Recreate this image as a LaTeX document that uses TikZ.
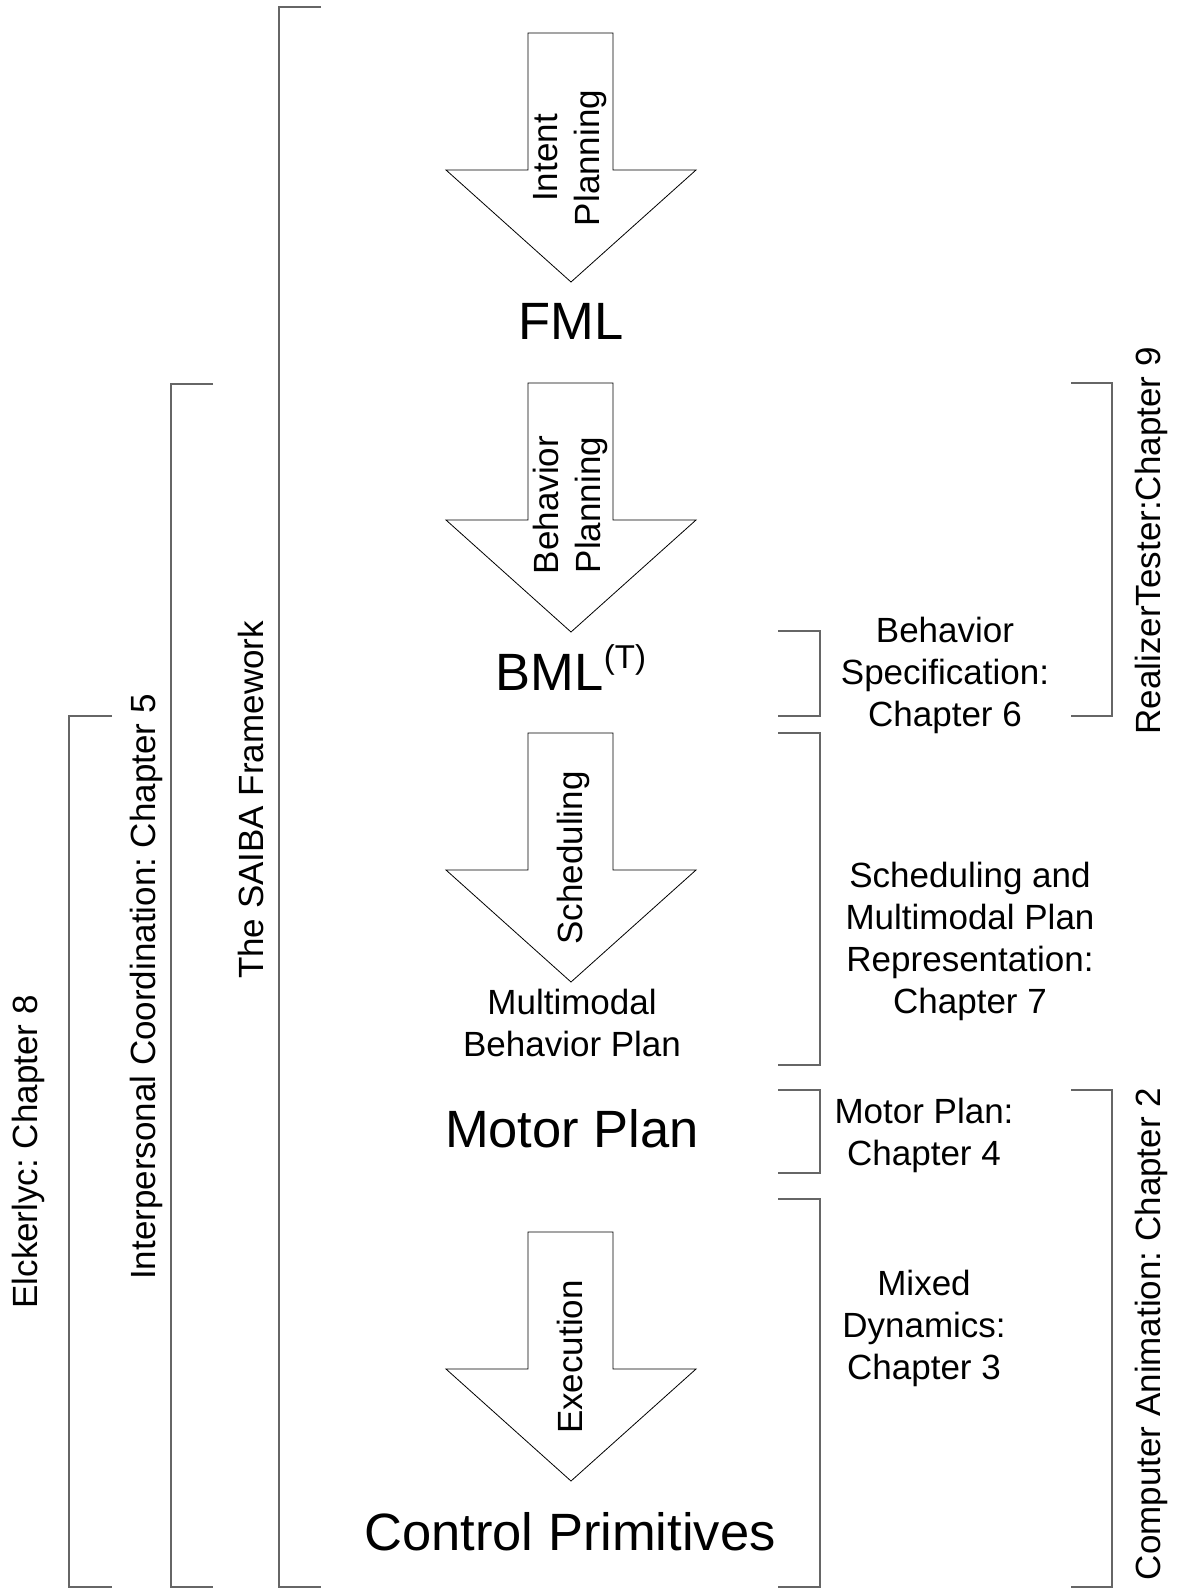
\documentclass[tikz,border=0pt]{standalone}
\usepackage{fontspec}
\setmainfont{Liberation Sans}
\newcommand\lblfont{\fontsize{35}{42}\selectfont}
\newcommand\bigfnt{\fontsize{52.5}{60}\selectfont}
\newcommand\supfnt{\fontsize{33}{40}\selectfont}
% block arrow pointing down: #1 = top of the shaft (y grows downwards)
\newcommand\stagearrow[1]{%
  \draw[stage] (528,#1) -- (613,#1) -- (613,#1+137) -- (696,#1+137)
    -- (571,#1+249) -- (446,#1+137) -- (528,#1+137) -- cycle;}

\begin{document}
\frenchspacing
\begin{tikzpicture}[x=1pt,y=-1pt,
  bracket/.style={draw=black!60, line width=1.3pt},
  stage/.style={draw=black, line width=0.8pt, fill=white, line join=miter},
  txt/.style={inner sep=0pt, font=\lblfont, align=center},
  big/.style={inner sep=0pt, font=\bigfnt},
  vert/.style={txt, rotate=90},
]
\useasboundingbox (0,0) rectangle (1176,1592);

% stages of the pipeline
\stagearrow{33}
\stagearrow{383}
\stagearrow{733}
\stagearrow{1232}

\node[vert] (intent) at (570.5,158) {Intent\\Planning};
\node[vert] (behplan) at (570.5,505) {Behavior\\Planning};
\node[vert, anchor=base] (sched) at (582,858) {Scheduling};
\node[vert, anchor=base] (exec) at (582,1357) {Execution};

% representations
\node[big, anchor=base] (fml) at (571,339) {FML};
\node[big, anchor=base] (bml) at (571,690) {BML\raisebox{22pt}{\supfnt(T)}};
\node[txt] (mbp) at (572,1023) {Multimodal\\Behavior Plan};
\node[big, anchor=base] (motor) at (572,1147) {Motor Plan};
\node[big, anchor=base] (ctrl) at (570,1550) {Control Primitives};

% brackets on the left
\draw[bracket] (321,7) -- (279,7) -- (279,1587) -- (321,1587);
\draw[bracket] (213,384) -- (171,384) -- (171,1587) -- (213,1587);
\draw[bracket] (112,716) -- (69,716) -- (69,1587) -- (112,1587);
\node[vert, anchor=base] (saiba) at (263,800) {The SAIBA Framework};
\node[vert, anchor=base] (inter) at (155,987) {Interpersonal Coordination: Chapter 5};
\node[vert, anchor=base] (elck) at (37,1152) {Elckerlyc: Chapter 8};

% brackets on the right
\draw[bracket] (778,631) -- (820,631) -- (820,716) -- (778,716);
\draw[bracket] (778,733) -- (820,733) -- (820,1065) -- (778,1065);
\draw[bracket] (778,1090) -- (820,1090) -- (820,1173) -- (778,1173);
\draw[bracket] (778,1199) -- (820,1199) -- (820,1587) -- (778,1587);
\draw[bracket] (1071,383) -- (1112,383) -- (1112,716) -- (1071,716);
\draw[bracket] (1071,1090) -- (1112,1090) -- (1112,1587) -- (1071,1587);

\node[txt] (bspec) at (945,675) {Behavior\\Specification:\\Chapter 6};
\node[txt] (schedrep) at (970,941) {Scheduling and\\Multimodal Plan\\Representation:\\Chapter 7};
\node[txt] (motorch) at (924,1135) {Motor Plan:\\Chapter 4};
\node[txt] (mixed) at (924,1328) {Mixed\\Dynamics:\\Chapter 3};
\node[vert, anchor=base] (realizer) at (1160,541) {RealizerTester:Chapter 9};
\node[vert, anchor=base] (anim) at (1160,1334) {Computer Animation: Chapter 2};
\end{tikzpicture}
\end{document}
